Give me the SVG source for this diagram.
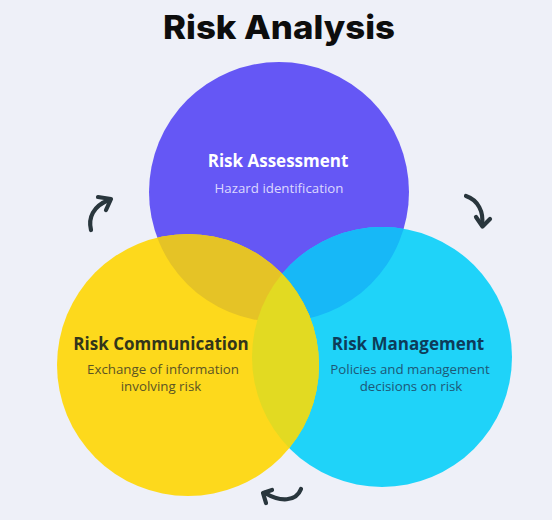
<svg xmlns="http://www.w3.org/2000/svg" width="552" height="520" viewBox="0 0 552 520">
  <style>
    .title { font-family: "Inter", "Liberation Sans", sans-serif; font-weight: 800; font-size: 33px; fill: #0d0d0d; }
    .head { font-family: "Open Sans", "Noto Sans", sans-serif; font-weight: 700; font-size: 17px; text-anchor: middle; }
    .sub { font-family: "Open Sans", "Noto Sans", sans-serif; font-weight: 400; font-size: 13.3px; text-anchor: middle; }
    .arrow { fill: none; stroke: #29363d; stroke-width: 4.2; stroke-linecap: round; stroke-linejoin: round; }
  </style>
  <defs>
    <clipPath id="clipP"><circle cx="279" cy="192" r="130"/></clipPath>
    <clipPath id="clipC"><circle cx="382" cy="357" r="130"/></clipPath>
  </defs>
  <rect width="552" height="520" fill="#eef0f8"/>
  <text class="title" x="279" y="39" text-anchor="middle" textLength="232" lengthAdjust="spacingAndGlyphs">Risk Analysis</text>

  <g id="assessment">
    <circle cx="279" cy="192" r="130" fill="#6557f5"/>
  </g>
  <g id="management">
    <circle cx="382" cy="357" r="130" fill="#1fd3f9"/>
    <circle cx="382" cy="357" r="130" fill="#17b8f7" clip-path="url(#clipP)"/>
  </g>
  <g id="communication">
    <circle cx="188" cy="365" r="131" fill="#fdd91c"/>
    <circle cx="188" cy="365" r="131" fill="#e5c326" clip-path="url(#clipP)"/>
    <circle cx="188" cy="365" r="131" fill="#e2da22" clip-path="url(#clipC)"/>
  </g>

  <g id="labels">
    <text class="head" x="278" y="167" fill="#ffffff">Risk Assessment</text>
    <text class="sub" x="279" y="193" fill="#dcd8ff">Hazard identification</text>
    <text class="head" x="161" y="350" fill="#32351a">Risk Communication</text>
    <text class="sub" x="163" y="374" fill="#5b5424">Exchange of information</text>
    <text class="sub" x="161" y="391" fill="#5b5424">involving risk</text>
    <text class="head" x="408" y="350" fill="#0d3c5a">Risk Management</text>
    <text class="sub" x="410" y="374" fill="#1d5877">Policies and management</text>
    <text class="sub" x="411" y="391" fill="#1d5877">decisions on risk</text>
  </g>

  <g id="connectors">
    <path class="arrow" d="M 91 230 C 88 218 93 206 109 200"/>
    <path class="arrow" d="M 98 197 L 111 199 L 106 210"/>
    <path class="arrow" d="M 466 196 C 478 200 484 212 482 225"/>
    <path class="arrow" d="M 476 217 L 482.5 226.5 L 490 219"/>
    <path class="arrow" d="M 301 489 C 296 502 280 502 265 493"/>
    <path class="arrow" d="M 272 490 L 263 493 L 266 503"/>
  </g>
</svg>
